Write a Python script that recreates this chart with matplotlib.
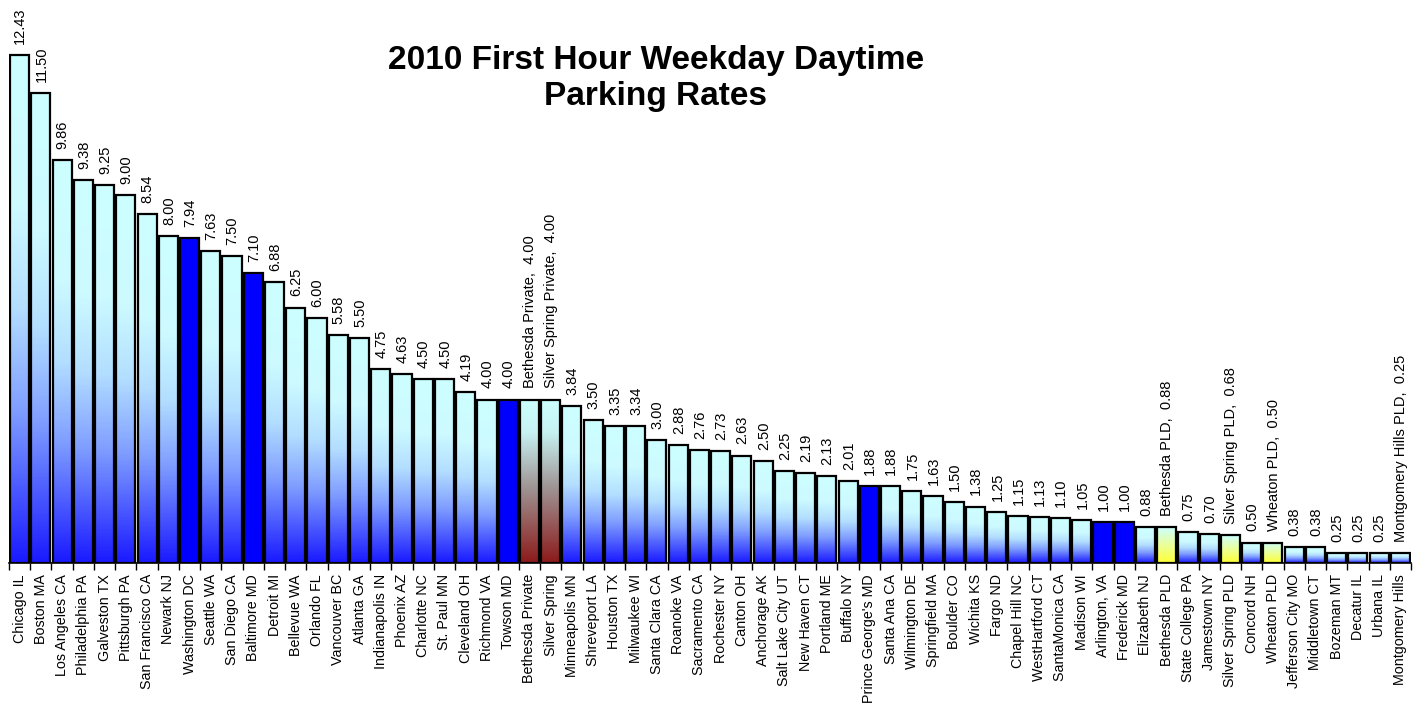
import numpy as np
import matplotlib
matplotlib.use("Agg")
import matplotlib.pyplot as plt
from matplotlib.colors import LinearSegmentedColormap

plt.rcParams['font.family'] = ['Liberation Sans', 'DejaVu Sans']

cities = [
    "Chicago IL", "Boston MA", "Los Angeles CA", "Philadelphia PA", "Galveston TX",
    "Pittsburgh PA", "San Francisco CA", "Newark NJ", "Washington DC", "Seattle WA",
    "San Diego CA", "Baltimore MD", "Detroit MI", "Bellevue WA", "Orlando FL",
    "Vancouver BC", "Atlanta GA", "Indianapolis IN", "Phoenix AZ", "Charlotte NC",
    "St. Paul MN", "Cleveland OH", "Richmond VA", "Towson MD", "Bethesda Private",
    "Silver Spring", "Minneapolis MN", "Shreveport LA", "Houston TX", "Milwaukee WI",
    "Santa Clara CA", "Roanoke VA", "Sacramento CA", "Rochester NY", "Canton OH",
    "Anchorage AK", "Salt Lake City UT", "New Haven CT", "Portland ME", "Buffalo NY",
    "Prince George's MD", "Santa Ana CA", "Wilmington DE", "Springfield MA", "Boulder CO",
    "Wichita KS", "Fargo ND", "Chapel Hill NC", "WestHartford CT", "SantaMonica CA",
    "Madison WI", "Arlington, VA", "Frederick MD", "Elizabeth NJ", "Bethesda PLD",
    "State College PA", "Jamestown NY", "Silver Spring PLD", "Concord NH", "Wheaton PLD",
    "Jefferson City MO", "Middletown CT", "Bozeman MT", "Decatur IL", "Urbana IL",
    "Montgomery Hills",
]

rates = [
    12.43, 11.50, 9.86, 9.38, 9.25,
    9.00, 8.54, 8.00, 7.94, 7.63,
    7.50, 7.10, 6.88, 6.25, 6.00,
    5.58, 5.50, 4.75, 4.63, 4.50,
    4.50, 4.19, 4.00, 4.00, 4.00,
    4.00, 3.84, 3.50, 3.35, 3.34,
    3.00, 2.88, 2.76, 2.73, 2.63,
    2.50, 2.25, 2.19, 2.13, 2.01,
    1.88, 1.88, 1.75, 1.63, 1.50,
    1.38, 1.25, 1.15, 1.13, 1.10,
    1.05, 1.00, 1.00, 0.88, 0.88,
    0.75, 0.70, 0.68, 0.50, 0.50,
    0.38, 0.38, 0.25, 0.25, 0.25,
    0.25,
]

# fill group of each bar: g = other cities, s = regional jurisdictions,
# p = Montgomery County private, m = Montgomery County PLD
groups = list(
    "ggggggggsggsgggggggggggspp"
    "gggggggggggggg"
    "sgggggggggg"
    "ssgmggmgmggggggm"
)

# data label names for highlighted bars (others show the value only)
point_names = {
    "Bethesda Private": "Bethesda Private",
    "Silver Spring": "Silver Spring Private",
    "Bethesda PLD": "Bethesda PLD",
    "Silver Spring PLD": "Silver Spring PLD",
    "Wheaton PLD": "Wheaton PLD",
    "Montgomery Hills": "Montgomery Hills PLD",
}

title = "2010 First Hour Weekday Daytime\nParking Rates"

# gradient colour maps (bottom -> top)
cmaps = {
    "g": LinearSegmentedColormap.from_list(
        "g", [(0.0, (0.10, 0.10, 1.0)), (0.30, (0.50, 0.62, 1.0)),
              (0.50, (0.70, 0.87, 1.0)), (0.70, (0.80, 0.98, 1.0)),
              (1.0, (0.80, 1.0, 1.0))]),
    "p": LinearSegmentedColormap.from_list(
        "p", [(0.0, (0.55, 0.10, 0.10)), (0.45, (0.62, 0.57, 0.57)),
              (0.8, (0.78, 0.95, 0.95)), (1.0, (0.80, 1.0, 1.0))]),
    "m": LinearSegmentedColormap.from_list(
        "m", [(0.0, (1.0, 1.0, 0.2)), (0.5, (0.92, 1.0, 0.6)),
              (1.0, (0.80, 1.0, 1.0))]),
}
solid_blue = "#0000ff"

W, H = 1418, 709
fig = plt.figure(figsize=(W / 100, H / 100), dpi=100)
ax = fig.add_axes([9 / W, (H - 563) / H, 1402 / W, 13.6 * 40.87 / H])

n = len(cities)
x = np.arange(n)
bw = 0.9
grad = np.linspace(0, 1, 512).reshape(-1, 1)

for xi, v, g in zip(x, rates, groups):
    if g == "s":
        ax.bar(xi, v, width=bw, color=solid_blue, edgecolor="black",
               linewidth=1.6, zorder=3)
    else:
        ax.imshow(grad, cmap=cmaps[g], origin="lower", aspect="auto",
                  extent=[xi - bw / 2, xi + bw / 2, 0, v], zorder=2,
                  interpolation="nearest")
        ax.bar(xi, v, width=bw, facecolor="none", edgecolor="black",
               linewidth=1.6, zorder=3)

for xi, v, c in zip(x, rates, cities):
    if c in point_names:
        txt = f"{point_names[c]},  {v:.2f}"
    else:
        txt = f"{v:.2f}"
    ax.annotate(txt, (xi, v), xytext=(0.5, 8), textcoords="offset points",
                rotation=90, ha="center", va="bottom", fontsize=10.5)

ax.set_xlim(-0.5, n - 0.5)
ax.set_ylim(0, 13.6)
ax.set_xticks(x)
ax.set_xticklabels(cities, rotation=90, fontsize=10.3)
ax.set_xticks(np.arange(n + 1) - 0.5, minor=True)
ax.tick_params(axis="x", which="major", length=0, pad=8)
ax.tick_params(axis="x", which="minor", length=5, width=1, direction="out")
ax.set_yticks([])
for s in ["left", "right", "top"]:
    ax.spines[s].set_visible(False)
ax.spines["bottom"].set_linewidth(1.2)
ax.patch.set_alpha(0)

fig.text(656 / W, 1 - 45 / H, title, ha="center", va="top",
         fontsize=24, fontweight="bold", linespacing=1.2)

fig.savefig("out.png", dpi=100)
